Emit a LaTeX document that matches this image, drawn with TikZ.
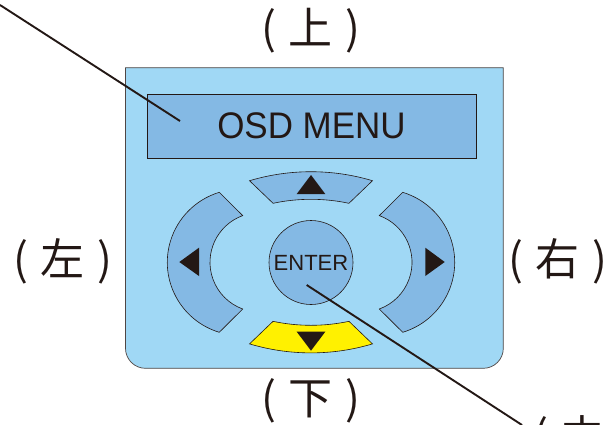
\documentclass[tikz,border=0pt]{standalone}
\usepackage{fontspec}
\usepackage{graphicx}
\setmainfont{Liberation Sans}
\newfontfamily\cjk{Noto Sans CJK SC}
\usetikzlibrary{calc}
\definecolor{bodyblue}{HTML}{A0D8F5}
\definecolor{btnblue}{HTML}{84B9E4}
\definecolor{btnyellow}{HTML}{FFF100}
\definecolor{ink}{HTML}{231815}
\newcommand{\dirlab}[1]{(\hspace{13pt}#1\hspace{13pt})}
\tikzset{
  btn/.style={draw=ink, line width=0.6pt, fill=btnblue},
  tri/.style={fill=ink, draw=none},
  pointer/.style={draw=ink, line width=1.9pt},
  dirlabel/.style={font=\cjk\fontsize{44}{48}\selectfont, text=ink, inner sep=0pt}
}
\begin{document}
\begin{tikzpicture}[x=1pt,y=-1pt]
\useasboundingbox (0,0) rectangle (615,424);
% body
\draw[draw=ink!80, line width=0.7pt, fill=bodyblue]
  (125.5,67.7) -- (503.3,67.7) -- (503.3,348.3)
  arc[start angle=0,end angle=90,radius=20] -- (145.5,368.3)
  arc[start angle=90,end angle=180,radius=20] -- cycle;
% OSD panel
\node[btn, line width=0.8pt, minimum width=329pt, minimum height=64pt, inner sep=0pt,
      font=\fontsize{37}{40}\selectfont, text=ink] (osd) at (311.5,126)
  {\scalebox{0.945}[1]{OSD MENU}};
% up button
\draw[btn] ($(311,386.3)+(-106.65:214.6)$) arc[start angle=-106.65,end angle=-73.35,radius=214.6]
  -- ($(311,381.8)+(-78:182.5)$) arc[start angle=-78,end angle=-102,radius=182.5] -- cycle;
% down button
\draw[btn, fill=btnyellow] ($(311,138.3)+(106.65:214.6)$) arc[start angle=106.65,end angle=73.35,radius=214.6]
  -- ($(311,142.8)+(78:182.5)$) arc[start angle=78,end angle=102,radius=182.5] -- cycle;
% left button
\draw[btn] ($(240.4,262.3)+(106.8:73.1)$) arc[start angle=106.8,end angle=253.2,radius=73.1]
  -- ($(259.7,262.3)+(250:49.7)$) arc[start angle=250,end angle=110,radius=49.7] -- cycle;
% right button
\draw[btn] ($(381.6,262.3)+(73.2:73.1)$) arc[start angle=73.2,end angle=-73.2,radius=73.1]
  -- ($(362.3,262.3)+(-70:49.7)$) arc[start angle=-70,end angle=70,radius=49.7] -- cycle;
% triangles
\fill[tri] (311,175) -- (296.7,194) -- (325.3,194) -- cycle;
\fill[tri] (296.7,331.7) -- (325.3,331.7) -- (311,350.7) -- cycle;
\fill[tri] (179.3,262) -- (199,247.7) -- (199,276) -- cycle;
\fill[tri] (425.3,247.7) -- (425.3,276) -- (444.7,262) -- cycle;
% enter
\node[btn, circle, minimum size=84pt, inner sep=0pt, font=\fontsize{22}{24}\selectfont, text=ink]
  (enter) at (311,262.5) {ENTER};
% labels
\node[dirlabel] (up) at (311,31) {\dirlab{上}};
\node[dirlabel] (down) at (311,401) {\dirlab{下}};
\node[dirlabel] (left) at (63,261) {\dirlab{左}};
\node[dirlabel] (right) at (558,261) {\dirlab{右}};
\begin{scope}
\clip (0,0) rectangle (615,424);
\node[dirlabel] (center) at (583,438) {\dirlab{中}};
\end{scope}
% pointers
\coordinate (p1) at (0,5);
\coordinate (osdtip) at (180,121);
\coordinate (entertip) at (306.7,285);
\coordinate (p2) at (522,425);
\draw[pointer] (p1) -- (osdtip);
\draw[pointer] (entertip) -- (p2);
\end{tikzpicture}
\end{document}
